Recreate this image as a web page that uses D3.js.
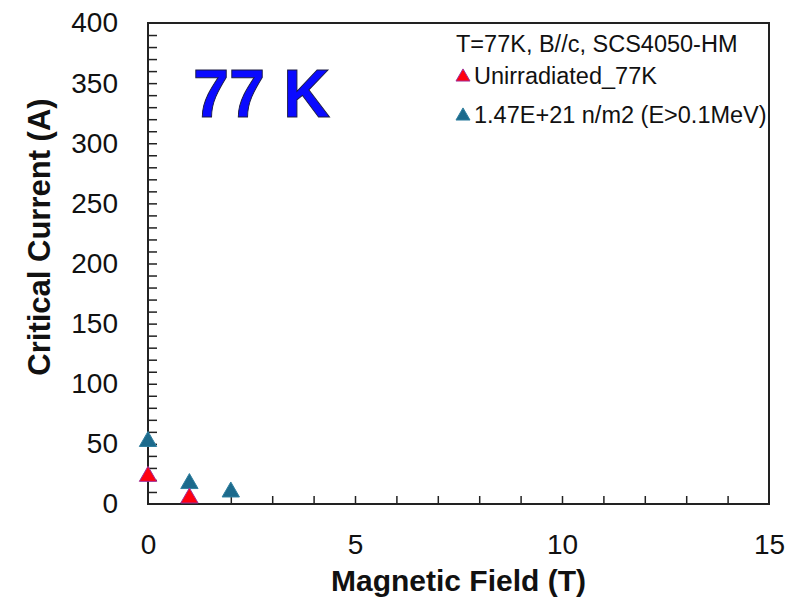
<!DOCTYPE html>
<html>
<head>
<meta charset="utf-8">
<script src="https://cdn.jsdelivr.net/npm/d3@7"></script>
<style>
  html, body { margin: 0; padding: 0; background: #fff; }
  svg { display: block; font-family: "Liberation Sans", Arial, Helvetica, sans-serif; }
</style>
</head>
<body>
<svg id="chart" width="787" height="602"></svg>
<script>
// Critical current vs. magnetic field, SCS4050-HM tape at 77 K
const unirradField = [0, 1];
const unirradIc = [23, 5];
const irradField = [0, 1, 2];
const irradIc = [52, 17, 10];
const seriesNames = ["Unirradiated_77K", "1.47E+21 n/m2 (E>0.1MeV)"];
const legendTitle = "T=77K, B//c, SCS4050-HM";
const xTickLabels = [0, 5, 10, 15];
const yTickLabels = [0, 50, 100, 150, 200, 250, 300, 350, 400];

const svg = d3.select("#chart");
const W = 787, H = 602;
const margin = { left: 148, right: 18, top: 23, bottom: 98 };

const x = d3.scaleLinear().domain([0, 15]).range([margin.left, W - margin.right]);
const y = d3.scaleLinear().domain([0, 400]).range([H - margin.bottom, margin.top]);

const axisColor = "#222";

// minor ticks (inward)
const xMinor = d3.range(1, 15);
svg.append("g")
  .attr("transform", `translate(0,${y(0)})`)
  .call(d3.axisTop(x).tickValues(xMinor).tickSize(8).tickFormat(""))
  .call(g => g.select(".domain").remove())
  .call(g => g.selectAll("line").attr("stroke", axisColor).attr("stroke-width", 1.5));

const yMinor = d3.range(10, 400, 10);
svg.append("g")
  .attr("transform", `translate(${x(0)},0)`)
  .call(d3.axisRight(y).tickValues(yMinor).tickSize(9).tickFormat(""))
  .call(g => g.select(".domain").remove())
  .call(g => g.selectAll("line").attr("stroke", axisColor).attr("stroke-width", 1.5));

// tick labels
svg.append("g")
  .attr("transform", `translate(0,${y(0)})`)
  .call(d3.axisBottom(x).tickValues(xTickLabels).tickSize(0).tickPadding(30))
  .call(g => g.select(".domain").remove())
  .call(g => g.selectAll("text")
    .attr("font-size", 28).attr("fill", "#111")
    .attr("font-family", "Liberation Sans, Arial, sans-serif"));

svg.append("g")
  .attr("transform", `translate(${x(0)},0)`)
  .call(d3.axisLeft(y).tickValues(yTickLabels).tickSize(0).tickPadding(30))
  .call(g => g.select(".domain").remove())
  .call(g => g.selectAll("text")
    .attr("font-size", 28).attr("fill", "#111")
    .attr("font-family", "Liberation Sans, Arial, sans-serif"));

// plot frame
svg.append("rect")
  .attr("x", x(0)).attr("y", y(400))
  .attr("width", x(15) - x(0)).attr("height", y(0) - y(400))
  .attr("fill", "none").attr("stroke", axisColor).attr("stroke-width", 2);

// axis titles
svg.append("text")
  .attr("x", (x(0) + x(15)) / 2).attr("y", 591)
  .attr("text-anchor", "middle")
  .attr("font-size", 30).attr("font-weight", "bold").attr("fill", "#111")
  .text("Magnetic Field (T)");

svg.append("text")
  .attr("transform", `translate(50,${237}) rotate(-90)`)
  .attr("text-anchor", "middle")
  .attr("font-size", 31).attr("font-weight", "bold").attr("fill", "#111")
  .text("Critical Current (A)");

// temperature label
svg.append("text")
  .attr("x", 193).attr("y", 117)
  .attr("font-size", 69).attr("font-weight", "bold")
  .attr("fill", "#0a0aff").attr("stroke", "#1a1a40").attr("stroke-width", 1)
  .attr("textLength", 137).attr("lengthAdjust", "spacingAndGlyphs")
  .text("77 K");

// data markers
const tri = d3.symbol().type(d3.symbolTriangle).size(130);
const colors = { red: "#ff0010", redStroke: "#a0309a", blue: "#1c6a8c", blueStroke: "#2f7f9f" };

svg.append("g").selectAll("path")
  .data(irradField.map((f, i) => ({ f, v: irradIc[i] })))
  .join("path")
  .attr("d", tri)
  .attr("transform", d => `translate(${x(d.f)},${y(d.v)})`)
  .attr("fill", colors.blue).attr("stroke", colors.blueStroke).attr("stroke-width", 1);

svg.append("g").selectAll("path")
  .data(unirradField.map((f, i) => ({ f, v: unirradIc[i] })))
  .join("path")
  .attr("d", tri)
  .attr("transform", d => `translate(${x(d.f)},${y(d.v)})`)
  .attr("fill", colors.red).attr("stroke", colors.redStroke).attr("stroke-width", 1);

// legend
const leg = svg.append("g");
leg.append("text").attr("x", 456).attr("y", 52)
  .attr("font-size", 23.5).attr("fill", "#111").text(legendTitle);

const legTri = d3.symbol().type(d3.symbolTriangle).size(85);
const legRows = [
  { name: seriesNames[0], y: 84, fill: colors.red, stroke: colors.redStroke },
  { name: seriesNames[1], y: 123, fill: colors.blue, stroke: colors.blueStroke }
];
legRows.forEach(r => {
  leg.append("path").attr("d", legTri)
    .attr("transform", `translate(463,${r.y - 7})`)
    .attr("fill", r.fill).attr("stroke", r.stroke).attr("stroke-width", 1);
  leg.append("text").attr("x", 474).attr("y", r.y)
    .attr("font-size", 23.5).attr("fill", "#111").text(r.name);
});
</script>
</body>
</html>
